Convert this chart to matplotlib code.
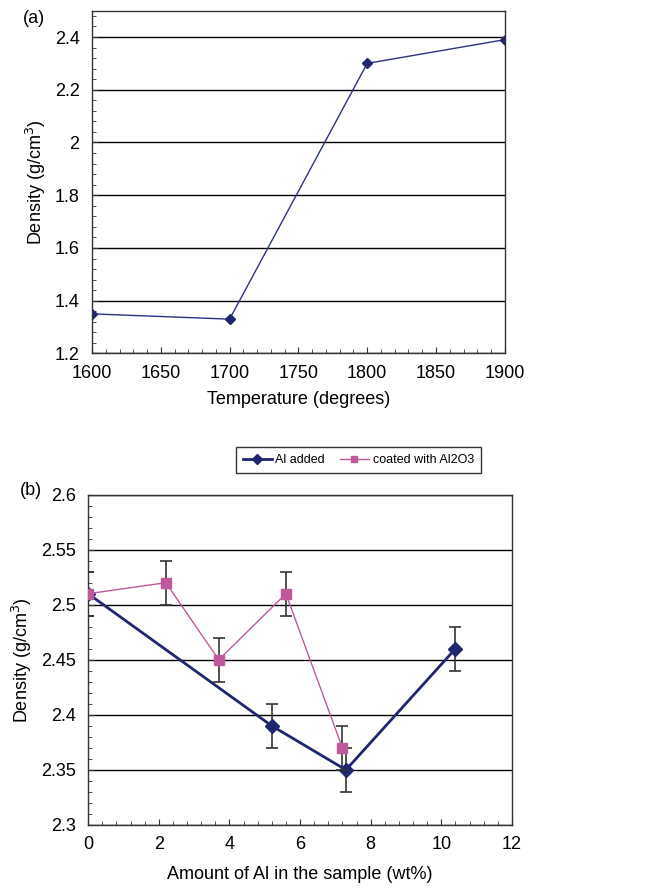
import matplotlib
matplotlib.use('Agg')
import matplotlib.pyplot as plt
from matplotlib.ticker import MultipleLocator, FuncFormatter

plt.rcParams['font.family'] = ['Liberation Sans', 'DejaVu Sans']

# (a) density vs temperature
temp = [1600, 1700, 1800, 1900]
dens_temp = [1.35, 1.33, 2.30, 2.39]

# (b) density vs Al amount
al_x = [0, 5.2, 7.3, 10.4]
al_y = [2.51, 2.39, 2.35, 2.46]
al_err = [0.02, 0.02, 0.02, 0.02]
co_x = [0, 2.2, 3.7, 5.6, 7.2]
co_y = [2.51, 2.52, 2.45, 2.51, 2.37]
co_err = [0.02, 0.02, 0.02, 0.02, 0.02]

navy = '#1f2670'
pink = '#c0589c'

def fmt(v, pos):
    s = ('%.2f' % v).rstrip('0').rstrip('.')
    return s

fig = plt.figure(figsize=(6.48, 8.88), dpi=100)

def style(ax):
    ax.yaxis.grid(True, which='major', color='black', lw=1)
    ax.set_axisbelow(True)
    for s in ax.spines.values():
        s.set_color('#333333')
        s.set_linewidth(1)
    ax.tick_params(which='both', direction='in', top=False, right=False,
                   labelsize=13, color='#333333')
    ax.tick_params(axis='x', pad=8)
    ax.tick_params(axis='y', pad=9)
    ax.tick_params(which='major', length=4)
    ax.tick_params(which='minor', length=3)
    ax.yaxis.set_major_formatter(FuncFormatter(fmt))

# top
ax1 = fig.add_axes([0.142, 0.602, 0.637, 0.386])
ax1.plot(temp, dens_temp, color='#2b3285', lw=1, marker='D', ms=5,
         markerfacecolor=navy, markeredgecolor=navy)
ax1.set_xlim(1600, 1900)
ax1.set_ylim(1.2, 2.5)
ax1.set_yticks([1.2, 1.4, 1.6, 1.8, 2.0, 2.2, 2.4])
ax1.yaxis.set_minor_locator(MultipleLocator(0.04))
ax1.xaxis.set_major_locator(MultipleLocator(50))
ax1.xaxis.set_minor_locator(MultipleLocator(10))
style(ax1)
ax1.set_xlabel('Temperature (degrees)', fontsize=13, labelpad=7)
ax1.set_ylabel('Density (g/cm$^3$)', fontsize=13, labelpad=5)
fig.text(0.036, 0.979, '(a)', fontsize=13, ha='left', va='center')

# bottom
ax2 = fig.add_axes([0.136, 0.071, 0.654, 0.372])
ax2.errorbar(al_x, al_y, yerr=al_err, color=navy, lw=2, marker='D', ms=7,
             ecolor='#333333', elinewidth=1.2, capsize=4, capthick=1.2,
             label='Al added', zorder=3)
ax2.errorbar(co_x, co_y, yerr=co_err, color=pink, lw=1, marker='s', ms=7,
             ecolor='#333333', elinewidth=1.2, capsize=4, capthick=1.2,
             label='coated with Al2O3', zorder=4)
ax2.set_xlim(0, 12)
ax2.set_ylim(2.3, 2.6)
ax2.yaxis.set_major_locator(MultipleLocator(0.05))
ax2.yaxis.set_minor_locator(MultipleLocator(0.01))
ax2.xaxis.set_major_locator(MultipleLocator(2))
ax2.xaxis.set_minor_locator(MultipleLocator(0.4))
style(ax2)
ax2.set_xlabel('Amount of Al in the sample (wt%)', fontsize=13, labelpad=9)
ax2.set_ylabel('Density (g/cm$^3$)', fontsize=13, labelpad=5)
fig.text(0.03, 0.448, '(b)', fontsize=13, ha='left', va='center')

h, l = ax2.get_legend_handles_labels()
h = [x[0] for x in h]
leg = fig.legend(h, l, loc='center', bbox_to_anchor=(0.553, 0.482), ncol=2,
                 fontsize=9, frameon=True, fancybox=False, edgecolor='black',
                 handlelength=2.3, columnspacing=1.2, borderpad=0.55,
                 handletextpad=0.3, markerscale=0.7)
leg.get_frame().set_linewidth(1)

fig.savefig('out.png', dpi=100)
